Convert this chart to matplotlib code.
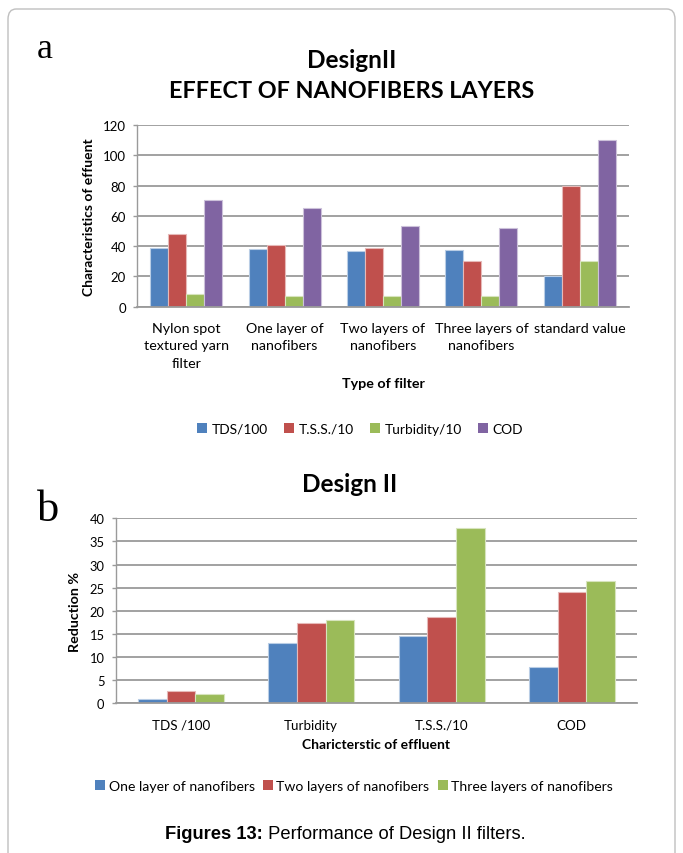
import numpy as np
import matplotlib
matplotlib.use("Agg")
import matplotlib.pyplot as plt
from matplotlib.patches import FancyBboxPatch, Patch

plt.rcParams['font.family'] = ['Lato', 'DejaVu Sans']

# ---- panel a: effect of nanofiber layers ----
filters_a = ["Nylon spot\ntextured yarn\nfilter", "One layer of\nnanofibers",
             "Two layers of\nnanofibers", "Three layers of\nnanofibers", "standard value"]
series_a = ["TDS/100", "T.S.S./10", "Turbidity/10", "COD"]
tds_100 = [38.5, 38, 37, 37.5, 20]
tss_10 = [48, 41, 39, 30, 80]
turbidity_10 = [8.5, 7, 7, 7, 30]
cod = [70.5, 65, 53.5, 52, 110]

# ---- panel b: reduction percentages ----
chars_b = ["TDS /100", "Turbidity", "T.S.S./10", "COD"]
series_b = ["One layer of nanofibers", "Two layers of nanofibers", "Three layers of nanofibers"]
one_layer = [1.0, 13.0, 14.5, 7.8]
two_layers = [2.7, 17.3, 18.6, 24.0]
three_layers = [2.0, 18.0, 37.9, 26.4]

colors = ["#4F81BD", "#C0504D", "#9BBB59", "#8064A2"]
edges = ["#B9CDE5", "#E6B9B8", "#D7E4BD", "#CCC1DA"]
grid_c = "#9A9A9A"

W, H = 683, 854
fig = plt.figure(figsize=(W / 100, H / 100), dpi=100)

# outer frame with rounded corners
frame = FancyBboxPatch((8 / W, -0.05), (675 - 8) / W, (854 - 10) / H + 0.05,
                       boxstyle="round,pad=0,rounding_size=0.012",
                       transform=fig.transFigure, fill=False,
                       edgecolor="#BFBFBF", linewidth=1.0)
fig.patches.append(frame)


def style_axes(ax, ymax, step, tick_size):
    ax.set_ylim(0, ymax)
    ax.set_yticks(np.arange(0, ymax + step / 2, step))
    ax.yaxis.grid(True, color=grid_c, linewidth=1.3)
    ax.set_axisbelow(True)
    for s in ["top", "right"]:
        ax.spines[s].set_visible(False)
    ax.spines["left"].set_color(grid_c)
    ax.spines["bottom"].set_color(grid_c)
    ax.spines["left"].set_linewidth(1.0)
    ax.spines["bottom"].set_linewidth(1.3)
    ax.tick_params(axis="y", length=3, color=grid_c, labelsize=tick_size, pad=5, width=1.0)
    ax.tick_params(axis="x", length=0, pad=11)


# panel a axes
ax1 = fig.add_axes([137 / W, 1 - 307.7 / H, (629 - 137) / W, (307.7 - 126) / H])
data_a = [tds_100, tss_10, turbidity_10, cod]
xa = np.arange(len(filters_a))
wa = 0.183
for i, vals in enumerate(data_a):
    ax1.bar(xa + (i - 1.5) * wa, vals, wa, color=colors[i], edgecolor=edges[i],
            linewidth=0.8, label=series_a[i])
style_axes(ax1, 120, 20, 9.5)
ax1.set_xlim(-0.5, len(filters_a) - 0.5)
ax1.set_xticks(xa)
ax1.set_xticklabels(filters_a, linespacing=1.55, va="top", fontsize=10.3)
ax1.set_ylabel("Characteristics of effuent", fontsize=10, fontweight="bold", labelpad=6)
ax1.set_xlabel("Type of filter", fontsize=10.3, fontweight="bold", labelpad=6)

fig.text(352 / W, 1 - 60 / H, "DesignII", ha="center", va="center",
         fontsize=17.5, fontweight="bold")
fig.text(352 / W, 1 - 92 / H, "EFFECT OF NANOFIBERS LAYERS", ha="center", va="center",
         fontsize=16.8, fontweight="bold")
fig.text(45 / W, 1 - 50 / H, "a", ha="center", va="center", fontsize=26,
         family=["Liberation Serif", "DejaVu Serif"])

handles_a = [Patch(facecolor=colors[i], edgecolor="none", label=series_a[i]) for i in range(4)]
fig.legend(handles=handles_a, loc="center", bbox_to_anchor=(360 / W, 1 - 430 / H),
           ncol=4, frameon=False, fontsize=9.9, handlelength=0.7, handleheight=0.7,
           handletextpad=0.35, columnspacing=1.2)

# panel b axes
ax2 = fig.add_axes([115.7 / W, 1 - 704.3 / H, (637 - 115.7) / W, (704.3 - 519.3) / H])
data_b = [one_layer, two_layers, three_layers]
xb = np.arange(len(chars_b))
wb = 0.22
for i, vals in enumerate(data_b):
    ax2.bar(xb + (i - 1) * wb, vals, wb, color=colors[i], edgecolor=edges[i],
            linewidth=0.8, label=series_b[i])
style_axes(ax2, 40, 5, 9.3)
ax2.set_xlim(-0.5, len(chars_b) - 0.5)
ax2.set_xticks(xb)
ax2.set_xticklabels(chars_b, fontsize=9.6)
ax2.set_ylabel("Reduction %", fontsize=10.3, fontweight="bold", labelpad=6)
ax2.set_xlabel("Charicterstic of effluent", fontsize=10, fontweight="bold", labelpad=5)

fig.text(350 / W, 1 - 485 / H, "Design II", ha="center", va="center",
         fontsize=17.5, fontweight="bold")
fig.text(48 / W, 1 - 510 / H, "b", ha="center", va="center", fontsize=32,
         family=["Liberation Serif", "DejaVu Serif"])

handles_b = [Patch(facecolor=colors[i], edgecolor="none", label=series_b[i]) for i in range(3)]
fig.legend(handles=handles_b, loc="center", bbox_to_anchor=(354 / W, 1 - 787 / H),
           ncol=3, frameon=False, fontsize=10.1, handlelength=0.7, handleheight=0.7,
           handletextpad=0.25, columnspacing=0.6)

# caption: bold lead-in followed by regular text
cap_font = ["Liberation Sans Narrow", "Liberation Sans", "DejaVu Sans"]
fig.canvas.draw()
renderer = fig.canvas.get_renderer()
t1 = fig.text(0, 1 - 835 / H, "Figures 13:", ha="left", va="center", fontsize=13.2,
              fontweight="bold", family=cap_font)
t2 = fig.text(0, 1 - 835 / H, " Performance of Design II filters.", ha="left", va="center",
              fontsize=13.2, family=cap_font)
w1 = t1.get_window_extent(renderer).width
w2 = t2.get_window_extent(renderer).width
x0 = 345 - (w1 + w2) / 2
t1.set_x(x0 / W)
t2.set_x((x0 + w1) / W)

fig.savefig("out.png", dpi=100)
